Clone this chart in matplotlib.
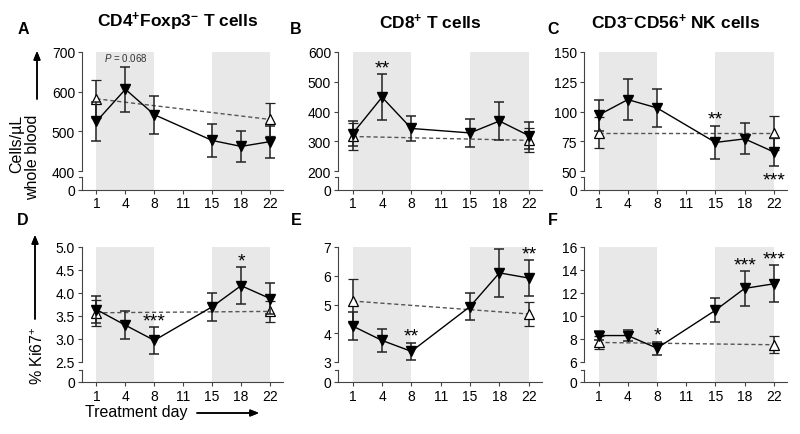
import numpy as np
import matplotlib
matplotlib.use("Agg")
import matplotlib.pyplot as plt
from matplotlib.lines import Line2D

plt.rcParams['font.family'] = ['Liberation Sans', 'DejaVu Sans']
plt.rcParams['mathtext.fontset'] = 'custom'
plt.rcParams['mathtext.rm'] = 'Liberation Sans'
plt.rcParams['mathtext.it'] = 'Liberation Sans:italic'
plt.rcParams['mathtext.bf'] = 'Liberation Sans:bold'

# x axis categories
day_labels = ['1', '4', '8', '11', '15', '18', '22']
trt_pos = [0, 1, 2, 4, 5, 6]      # days 1, 4, 8, 15, 18, 22
ctl_pos = [0, 6]                  # days 1, 22

# A: CD4+Foxp3- T cells (cells/uL)
A_trt = [525, 606, 542, 477, 462, 474]
A_trt_err = [50, 57, 48, 41, 40, 40]
A_ctl = [582, 530]
A_ctl_err = [48, 41]
# B: CD8+ T cells
B_trt = [326, 448, 343, 328, 368, 319]
B_trt_err = [42, 77, 43, 48, 63, 45]
B_ctl = [316, 303]
B_ctl_err = [45, 40]
# C: NK cells
C_trt = [97, 110, 103, 74, 77, 66]
C_trt_err = [13, 17, 16, 14, 13, 12]
C_ctl = [82, 82]
C_ctl_err = [13, 14]
# D: % Ki67+ CD4
D_trt = [3.64, 3.30, 2.97, 3.70, 4.16, 3.88]
D_trt_err = [0.30, 0.31, 0.29, 0.31, 0.40, 0.33]
D_ctl = [3.57, 3.60]
D_ctl_err = [0.28, 0.22]
# E: % Ki67+ CD8
E_trt = [4.25, 3.75, 3.37, 4.93, 6.10, 5.92]
E_trt_err = [0.50, 0.41, 0.30, 0.46, 0.84, 0.63]
E_ctl = [5.12, 4.67]
E_ctl_err = [0.77, 0.43]
# F: % Ki67+ NK
F_trt = [8.3, 8.3, 7.2, 10.5, 12.4, 12.8]
F_trt_err = [0.4, 0.5, 0.55, 1.05, 1.5, 1.6]
F_ctl = [7.7, 7.5]
F_ctl_err = [0.6, 0.75]

titles = [r'CD4$^{\mathbf{+}}$Foxp3$^{\mathbf{-}}$ T cells',
          r'CD8$^{\mathbf{+}}$ T cells',
          r'CD3$^{\mathbf{-}}$CD56$^{\mathbf{+}}$ NK cells']
letters = ['A', 'B', 'C', 'D', 'E', 'F']

panels = [
    (A_trt, A_trt_err, A_ctl, A_ctl_err, 400, 700, [400, 500, 600, 700], ['400', '500', '600', '700']),
    (B_trt, B_trt_err, B_ctl, B_ctl_err, 200, 600, [200, 300, 400, 500, 600], ['200', '300', '400', '500', '600']),
    (C_trt, C_trt_err, C_ctl, C_ctl_err, 50, 150, [50, 75, 100, 125, 150], ['50', '75', '100', '125', '150']),
    (D_trt, D_trt_err, D_ctl, D_ctl_err, 2.5, 5.0, [2.5, 3.0, 3.5, 4.0, 4.5, 5.0], ['2.5', '3.0', '3.5', '4.0', '4.5', '5.0']),
    (E_trt, E_trt_err, E_ctl, E_ctl_err, 3, 7, [3, 4, 5, 6, 7], ['3', '4', '5', '6', '7']),
    (F_trt, F_trt_err, F_ctl, F_ctl_err, 6, 16, [6, 8, 10, 12, 14, 16], ['6', '8', '10', '12', '14', '16']),
]

# significance marks: (panel, index into trt_pos, text, above)
marks = [
    (0, 1, '$P$ = 0.068', True),
    (1, 1, '**', True),
    (2, 3, '**', True), (2, 5, '***', False),
    (3, 2, '***', True), (3, 4, '*', True),
    (4, 2, '**', True), (4, 5, '**', True),
    (5, 2, '*', True), (5, 4, '***', True), (5, 5, '***', True),
]

W, H = 800, 435
fig = plt.figure(figsize=(8, 4.35), dpi=100)

col_px = [(82, 283), (338, 542), (584, 787)]
row_px = [(53, 190.5, 178, 172), (248, 383, 371, 363)]  # top, zero, seg top, lo

spine_c = '#444444'


def make_scale(lo, hi, b):
    def fwd(y):
        y = np.asarray(y, float)
        return np.where(y < lo, y / lo * b, b + (y - lo) / (hi - lo) * (1 - b))

    def inv(t):
        t = np.asarray(t, float)
        return np.where(t < b, t / b * lo, lo + (t - b) / (1 - b) * (hi - lo))
    return fwd, inv


axes = []
for i, (trt, trt_err, ctl, ctl_err, lo, hi, yt, ytl) in enumerate(panels):
    r, c = divmod(i, 3)
    x0, x1 = col_px[c]
    top, zero, segtop, lopx = row_px[r]
    ax = fig.add_axes([x0 / W, 1 - zero / H, (x1 - x0) / W, (zero - top) / H])
    axes.append(ax)
    b = (zero - lopx) / (zero - top)
    s = (zero - segtop) / (zero - top)
    ax.set_yscale('function', functions=make_scale(lo, hi, b))
    ax.set_ylim(0, hi)
    ax.set_xlim(-0.5, 6.45)

    ax.axvspan(0, 2, color='#e8e8e8', zorder=0, lw=0)
    ax.axvspan(4, 6, color='#e8e8e8', zorder=0, lw=0)

    # control (open triangles, dashed)
    ax.plot(ctl_pos, ctl, ls=(0, (3, 2)), color='#555555', lw=1.0, zorder=2)
    ax.errorbar(ctl_pos, ctl, yerr=ctl_err, fmt='^', ms=7.5, mfc='white', mec='black',
                mew=0.9, ecolor='#222222', elinewidth=1.1, capsize=3.8, capthick=1.1, zorder=3)
    # treatment (filled triangles, solid)
    ax.errorbar(trt_pos, trt, yerr=trt_err, fmt='v-', ms=7.5, color='black', lw=1.0,
                ecolor='#222222', elinewidth=1.1, capsize=3.8, capthick=1.1, zorder=4)

    ax.set_yticks([0] + yt)
    ax.set_yticklabels(['0'] + ytl)
    ax.set_xticks(range(len(day_labels)))
    ax.set_xticklabels(day_labels)
    ax.tick_params(labelsize=10, length=3, width=0.8, color=spine_c, pad=2)

    for sp in ['top', 'right', 'left']:
        ax.spines[sp].set_visible(False)
    ax.spines['bottom'].set_color(spine_c)
    ax.spines['bottom'].set_linewidth(0.8)
    # broken left axis
    ax.add_line(Line2D([0, 0], [0, s], transform=ax.transAxes, color=spine_c, lw=0.8, clip_on=False))
    ax.add_line(Line2D([-0.015, 0], [s, s], transform=ax.transAxes, color=spine_c, lw=0.8, clip_on=False))
    ax.add_line(Line2D([0, 0], [b, 1], transform=ax.transAxes, color=spine_c, lw=0.8, clip_on=False))

for (pi, k, txt, above) in marks:
    ax = axes[pi]
    trt, trt_err = panels[pi][0], panels[pi][1]
    if txt.startswith('$P'):
        ax.annotate(txt, (trt_pos[k], trt[k] + trt_err[k]), xytext=(0, 3), textcoords='offset points',
                    ha='center', va='bottom', fontsize=7, color='#333333')
    elif above:
        ax.annotate(txt, (trt_pos[k], trt[k] + trt_err[k]), xytext=(0, -1.5), textcoords='offset points',
                    ha='center', va='bottom', fontsize=14)
    else:
        ax.annotate(txt, (trt_pos[k], trt[k] - trt_err[k]), xytext=(0, -16), textcoords='offset points',
                    ha='center', va='bottom', fontsize=14)

# titles and panel letters
for c, (t, cx) in enumerate(zip(titles, [178, 430, 676])):
    fig.text(cx / W, 1 - 22 / H, t, ha='center', va='center', fontsize=12.5, fontweight='bold')
for i, (lx, ly) in enumerate([(23, 30), (296, 30), (553, 30), (23, 221), (296, 221), (553, 221)]):
    fig.text(lx / W, 1 - ly / H, letters[i], ha='center', va='center', fontsize=11.5, fontweight='bold')

# y labels with arrows
fig.text(25 / W, 1 - 157 / H, 'Cells/\u00b5L\nwhole blood', rotation=90, ha='center', va='center',
         fontsize=11.5, multialignment='right', linespacing=1.05)
fig.text(38 / W, 1 - 356 / H, '% Ki67$^{+}$', rotation=90, ha='center', va='center', fontsize=11.5)
arrow = dict(arrowstyle='-|>,head_length=0.5,head_width=0.2', lw=1.1, color='black', shrinkA=0, shrinkB=0)
fig.add_artist(plt.annotate('', xy=(37 / W, 1 - 52 / H), xytext=(37 / W, 1 - 100 / H),
                            xycoords='figure fraction', arrowprops=arrow))
fig.add_artist(plt.annotate('', xy=(35 / W, 1 - 236 / H), xytext=(35 / W, 1 - 320 / H),
                            xycoords='figure fraction', arrowprops=arrow))
fig.text(136 / W, 1 - 413 / H, 'Treatment day', ha='center', va='center', fontsize=11.5)
fig.add_artist(plt.annotate('', xy=(259 / W, 1 - 414 / H), xytext=(197 / W, 1 - 414 / H),
                            xycoords='figure fraction', arrowprops=arrow))

fig.savefig('out.png', dpi=100)
